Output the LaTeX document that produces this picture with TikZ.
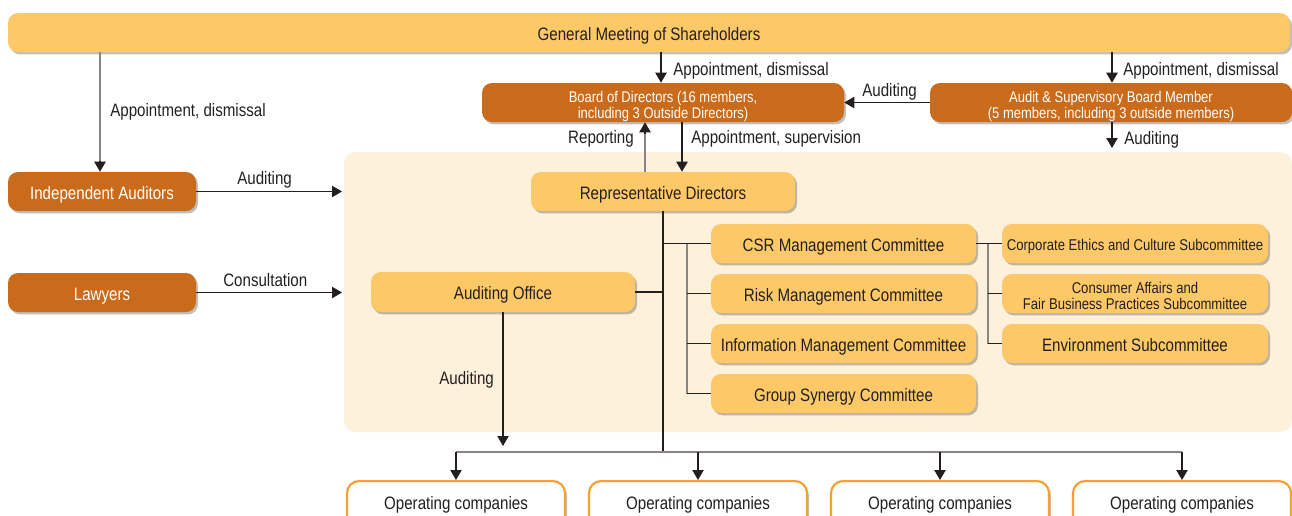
\documentclass[tikz,border=0pt]{standalone}
\usepackage{fontspec}
\setmainfont{Liberation Sans}[FakeStretch=0.84]
\usetikzlibrary{arrows.meta,shadows}
\definecolor{gold}{HTML}{FDC968}
\definecolor{rust}{HTML}{C96B1B}
\definecolor{cream}{HTML}{FEF1DC}
\definecolor{opor}{HTML}{F6A030}
\definecolor{ink}{HTML}{231F20}
\definecolor{ln}{HTML}{8A8580}
\newcommand{\twol}[1]{\begin{tabular}{@{}c@{}}#1\end{tabular}}
\tikzset{
  shad/.style={drop shadow={shadow xshift=1.5pt,shadow yshift=-1.8pt,opacity=0.25,fill=black}},
  big/.style={font=\fontsize{13.5}{15}\selectfont,text height=12.5pt,text depth=1.2pt},
  small/.style={font=\fontsize{11.7}{11.7}\selectfont,text height=11pt,text depth=1.1pt},
  twoline/.style={font=\fontsize{11.6}{11.25}\selectfont,text height=13.5pt,text depth=0.8pt},
  goldbox/.style={fill=gold,rounded corners=7.5pt,text=ink,inner sep=0pt,shad,big},
  rustbox/.style={fill=rust,rounded corners=7.5pt,text=white,inner sep=0pt,shad,big},
  opbox/.style={fill=white,draw=opor,line width=1.6pt,rounded corners=9pt,text=ink,inner sep=0pt,shad,
     font=\fontsize{13.5}{15}\selectfont,text height=8pt,text depth=2pt},
  arr/.style={draw=ink,line width=0.8pt,-{Triangle[width=8.5pt,length=7.5pt]}},
  ln/.style={draw=ink,line width=0.8pt},
  gln/.style={draw=ln,line width=1pt},
  lab/.style={text=ink,font=\fontsize{13.5}{15}\selectfont,inner sep=0pt,anchor=base west},
}
\begin{document}
\begin{tikzpicture}[x=0.75pt,y=-0.75pt]
\useasboundingbox (0,0) rectangle (1292,515);
% background area
\fill[cream,rounded corners=9pt] (344,152) rectangle (1292,432);
% nodes
\node[goldbox,minimum width=961.5pt,minimum height=29.25pt] (gm) at (649,32.5) {General Meeting of Shareholders};
\node[rustbox,twoline,minimum width=271.5pt,minimum height=29.25pt] (bod) at (663,102.5) {\twol{Board of Directors (16 members,\\including 3 Outside Directors)}};
\node[rustbox,twoline,minimum width=271.5pt,minimum height=29.25pt] (asb) at (1111,102.5) {\twol{Audit \& Supervisory Board Member\\(5 members, including 3 outside members)}};
\node[rustbox,minimum width=141pt,minimum height=29.25pt] (ia) at (102,191.5) {Independent Auditors};
\node[rustbox,minimum width=141pt,minimum height=29.25pt] (law) at (102,292.5) {Lawyers};
\node[goldbox,minimum width=198pt,minimum height=29.25pt] (rep) at (663,191.5) {Representative Directors};
\node[goldbox,minimum width=198pt,minimum height=30pt] (ao) at (503,292) {Auditing Office};
\node[goldbox,minimum width=198.75pt,minimum height=29.25pt] (csr) at (843.5,243.5) {CSR Management Committee};
\node[goldbox,minimum width=198.75pt,minimum height=29.25pt] (risk) at (843.5,293.5) {Risk Management Committee};
\node[goldbox,minimum width=198.75pt,minimum height=29.25pt] (info) at (843.5,343.5) {Information Management Committee};
\node[goldbox,minimum width=198.75pt,minimum height=29.25pt] (grp) at (843.5,393.5) {Group Synergy Committee};
\node[goldbox,small,minimum width=199.5pt,minimum height=29.25pt] (eth) at (1135,243.5) {Corporate Ethics and Culture Subcommittee};
\node[goldbox,twoline,font=\fontsize{11.7}{11.7}\selectfont,text height=13.5pt,text depth=0.9pt,minimum width=199.5pt,minimum height=29.25pt] (cons) at (1135,293.5) {\twol{Consumer Affairs and\\Fair Business Practices Subcommittee}};
\node[goldbox,minimum width=199.5pt,minimum height=29.25pt] (env) at (1135,343.5) {Environment Subcommittee};
\foreach \i/\x in {1/456,2/698,3/940,4/1182}
  \node[opbox,minimum width=163.5pt,minimum height=36pt,anchor=north] (op\i) at (\x,480) {Operating companies};
% helper coordinates
\coordinate (bus) at (0,452);
\coordinate (aoend) at (0,446);
\coordinate (asbend) at (0,148);
\coordinate (areaL) at (342,0);
\coordinate (t1) at (687,0);
\coordinate (t2) at (988,0);
\coordinate (g1) at (100,0);
\coordinate (g2) at (661,0);
\coordinate (g3) at (1112,0);
\coordinate (rpx) at (645,0);
\coordinate (apx) at (682,0);
% top connectors
\draw[gln] (gm.south -| g1) -- ([yshift=8pt]ia.north -| g1);
\draw[arr] ([yshift=8pt]ia.north -| g1) -- (ia.north -| g1);
\draw[arr] (gm.south -| g2) -- (bod.north -| g2);
\draw[arr] (gm.south -| g3) -- (asb.north -| g3);
\draw[arr] (asb.west) -- (bod.east);
\draw[arr] (asb.south -| g3) -- (asbend -| g3);
\draw[gln] (rep.north -| rpx) -- ([yshift=-9pt]bod.south -| rpx);
\draw[arr] ([yshift=-9pt]bod.south -| rpx) -- (bod.south -| rpx);
\draw[arr] (bod.south -| apx) -- (rep.north -| apx);
\draw[arr] (ia.east) -- (ia.east -| areaL);
\draw[arr] (law.east) -- (law.east -| areaL);
% labels
\node[lab] (l1) at (110,116) {Appointment, dismissal};
\node[lab] (l2) at (673,75) {Appointment, dismissal};
\node[lab] (l3) at (1123,75) {Appointment, dismissal};
\node[lab] (l4) at (862,96) {Auditing};
\node[lab] (l5) at (1124,144) {Auditing};
\node[lab,anchor=base east] (l6) at (634,143.5) {Reporting};
\node[lab] (l7) at (691,143.5) {Appointment, supervision};
\node[lab] (l8) at (237,184) {Auditing};
\node[lab] (l9) at (223,286) {Consultation};
\node[lab] (l10) at (439,384) {Auditing};
% inner tree
\draw[ln] (rep.south) -- (rep.south |- bus);
\draw[ln] (ao.east) -- (ao.east -| rep.south);
\draw[ln] (rep.south |- csr.west) -- (csr.west);
\draw[gln] (csr.west -| t1) -- (grp.west -| t1);
\draw[ln] (risk.west -| t1) -- (risk.west);
\draw[ln] (info.west -| t1) -- (info.west);
\draw[ln] (grp.west -| t1) -- (grp.west);
\draw[ln] (csr.east) -- (eth.west);
\draw[gln] (csr.east -| t2) -- (env.west -| t2);
\draw[ln] (cons.west -| t2) -- (cons.west);
\draw[ln] (env.west -| t2) -- (env.west);
\draw[arr] (ao.south) -- (ao.south |- aoend);
% bus
\draw[gln] (op1.north |- bus) -- (op4.north |- bus);
\foreach \i in {1,2,3,4} \draw[arr] (op\i.north |- bus) -- (op\i.north);
\end{tikzpicture}
\end{document}
